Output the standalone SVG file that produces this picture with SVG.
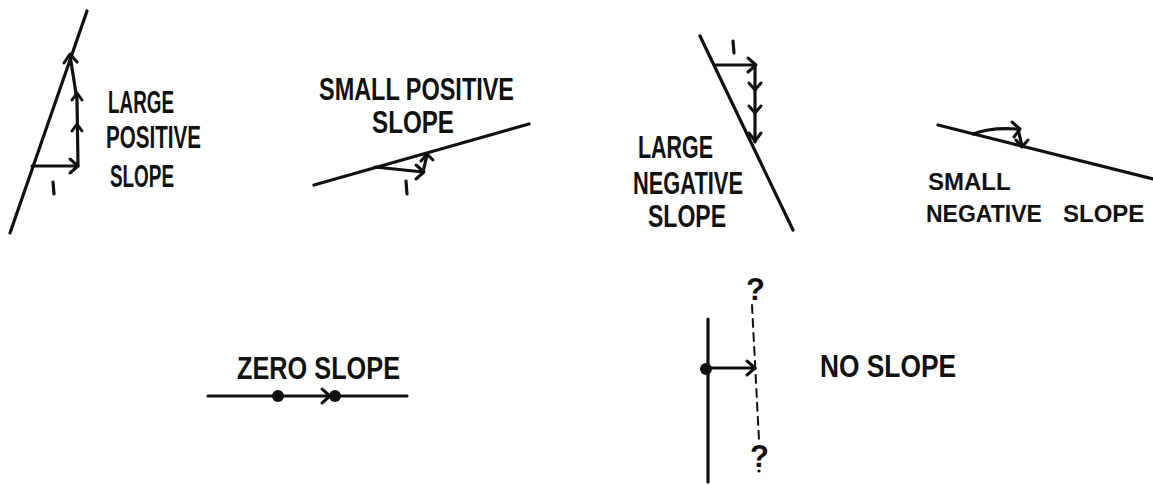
<svg xmlns="http://www.w3.org/2000/svg" width="1153" height="485" viewBox="0 0 1153 485">
<style>
.ln{stroke:#111;stroke-width:3.2;fill:none;stroke-linecap:round;stroke-linejoin:round}
.ah{stroke:#111;stroke-width:3;fill:none;stroke-linecap:round;stroke-linejoin:round}
.t{font-family:"Liberation Sans",Arial,sans-serif;font-weight:bold;fill:#111;font-size:31px}
.dash{stroke:#111;stroke-width:2;fill:none;stroke-dasharray:8 6;stroke-linecap:round}
</style>
<rect width="1153" height="485" fill="#fff"/>
<g id="large-positive">
<line class="ln" x1="87" y1="11" x2="10" y2="233"/>
<path class="ln" d="M32 166 L78 166 L77 100 L70 55"/>
<path class="ah" d="M70 159 L78 166 L70 173"/>
<path class="ah" d="M72 131 L77 124 L82 131"/>
<path class="ah" d="M72 100 L77 93 L82 100"/>
<path class="ah" d="M64 63 L70 54 L77 62"/>
<line class="ln" x1="53" y1="182" x2="54" y2="194"/>
<text class="t" x="108" y="113" textLength="66" lengthAdjust="spacingAndGlyphs">LARGE</text>
<text class="t" x="106" y="148" textLength="95" lengthAdjust="spacingAndGlyphs">POSITIVE</text>
<text class="t" x="110" y="187" textLength="64" lengthAdjust="spacingAndGlyphs">SLOPE</text>
</g>
<g id="small-positive">
<line class="ln" x1="314" y1="185" x2="529" y2="124"/>
<path class="ln" d="M375 167 L423 172 L427 155"/>
<path class="ah" d="M416 165 L424 172 L416 179"/>
<path class="ah" d="M421 161 L427 154 L433 160"/>
<line class="ln" x1="406" y1="181" x2="407" y2="194"/>
<text class="t" x="319" y="100" textLength="195" lengthAdjust="spacingAndGlyphs">SMALL POSITIVE</text>
<text class="t" x="372" y="133" textLength="82" lengthAdjust="spacingAndGlyphs">SLOPE</text>
</g>
<g id="large-negative">
<line class="ln" x1="700" y1="36" x2="793" y2="230"/>
<path class="ln" d="M715 65 L755 65 L755 142"/>
<path class="ah" d="M748 58 L756 65 L748 72"/>
<path class="ah" d="M749 83 L755 90 L761 83"/>
<path class="ah" d="M749 106 L755 113 L761 106"/>
<path class="ah" d="M749 133 L755 141 L761 133"/>
<line class="ln" x1="733" y1="41" x2="734" y2="53"/>
<text class="t" x="638" y="158" textLength="75" lengthAdjust="spacingAndGlyphs">LARGE</text>
<text class="t" x="633" y="194" textLength="110" lengthAdjust="spacingAndGlyphs">NEGATIVE</text>
<text class="t" x="648" y="227" textLength="78" lengthAdjust="spacingAndGlyphs">SLOPE</text>
</g>
<g id="small-negative">
<line class="ln" x1="938" y1="125" x2="1153" y2="179"/>
<path class="ln" d="M973 134 Q990 127 1018 129 L1022 146"/>
<path class="ah" d="M1012 122 L1020 129 L1014 137"/>
<path class="ah" d="M1016 140 L1022 147 L1028 140"/>
<text class="t" x="928" y="190" style="font-size:24px">SMALL</text>
<text class="t" x="926" y="222" style="font-size:23px">NEGATIVE</text>
<text class="t" x="1063" y="222" style="font-size:24px">SLOPE</text>
</g>
<g id="zero-slope">
<line class="ln" x1="208" y1="396" x2="407" y2="396"/>
<circle cx="278" cy="396" r="6" fill="#111"/>
<circle cx="335" cy="396" r="6" fill="#111"/>
<path class="ah" d="M322 389 L330 396 L322 403"/>
<text class="t" x="237" y="379" textLength="163" lengthAdjust="spacingAndGlyphs">ZERO SLOPE</text>
</g>
<g id="no-slope">
<line class="ln" x1="708" y1="319" x2="708" y2="482"/>
<circle cx="706" cy="369" r="6" fill="#111"/>
<line class="ln" x1="706" y1="368" x2="755" y2="368"/>
<path class="ah" d="M747 361 L755 368 L747 375"/>
<line class="dash" x1="752" y1="305" x2="759" y2="440"/>
<circle cx="759" cy="471" r="1.6" fill="#111"/>
<text class="t" x="746" y="300">?</text>
<text class="t" x="750" y="467">?</text>
<text class="t" x="820" y="377" textLength="136" lengthAdjust="spacingAndGlyphs">NO SLOPE</text>
</g>
</svg>
